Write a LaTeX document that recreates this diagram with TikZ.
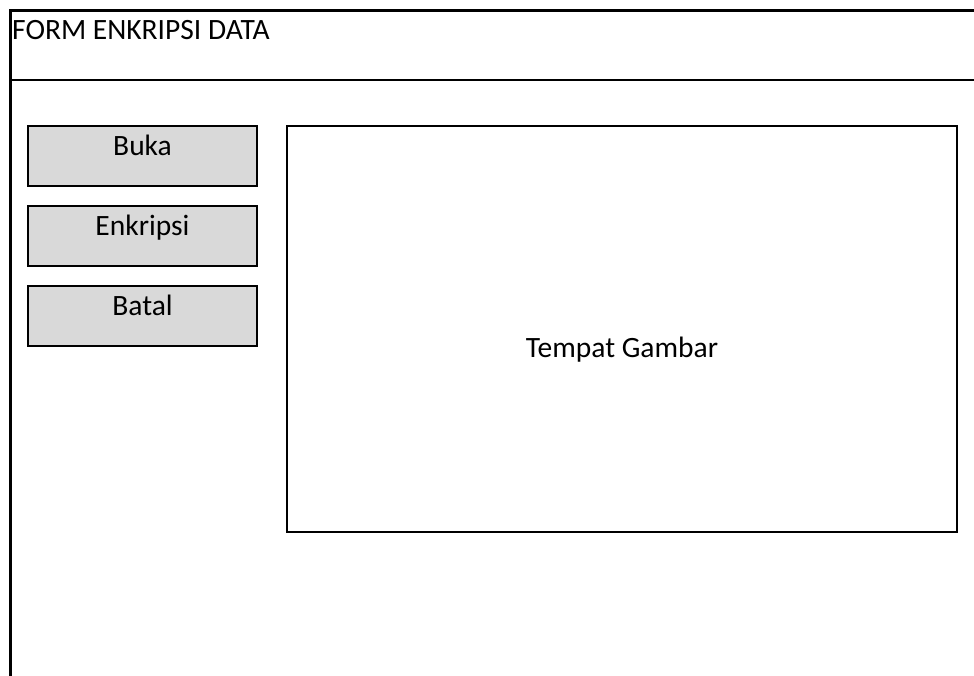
\documentclass[tikz,border=0pt]{standalone}
\usepackage{fontspec}
\setmainfont{Carlito}
\usetikzlibrary{positioning}
\tikzstyle{bingkai} = [draw=black, line width=2.5pt]
\tikzstyle{tombol} = [rectangle, draw=black, fill=black!15, line width=1.8pt,
minimum width=229pt, inner sep=0pt, outer sep=0pt, text height=29.5pt,
text depth=30.5pt, font=\fontsize{29.5}{34}\selectfont]
\tikzstyle{judul} = [inner sep=0pt, font=\fontsize{29.5}{34}\selectfont]
\tikzstyle{panel} = [rectangle, draw=black, fill=white, line width=1.8pt,
minimum width=670pt, inner sep=0pt, outer sep=0pt, text height=231pt,
text depth=175pt, font=\fontsize{29.5}{34}\selectfont]

\begin{document}
\begin{tikzpicture}[x=1pt,y=-1pt]
  \clip (0,0) rectangle (974,676);
  \fill[white] (0,0) rectangle (974,676);

  % frame of the form
  \draw[bingkai] (10.5,10.5) rectangle (990,700);
  \draw[bingkai] (10.5,80) -- (990,80);
  \node[judul, anchor=base west] (judul) at (12,39.5) {FORM ENKRIPSI DATA};

  % buttons
  \node[tombol, anchor=north west] (buka) at (28,126) {Buka};
  \node[tombol, below=20pt of buka] (enkripsi) {Enkripsi};
  \node[tombol, below=20pt of enkripsi] (batal) {Batal};

  % picture area
  \node[panel, right=30pt of buka.north east, anchor=north west] (gambar) {Tempat Gambar};
\end{tikzpicture}
\end{document}
